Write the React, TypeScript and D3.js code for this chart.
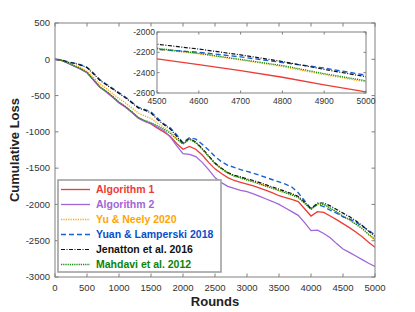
import * as d3 from 'd3';

const rounds = d3.range(0, 5001, 100);

// cumulative loss, one value per 100 rounds
const alg1 = [0, -15, -50, -92, -132, -182, -282, -382, -445, -515, -595, -655, -725, -805, -850, -890, -950, -1000, -1060, -1160, -1240, -1200, -1240, -1320, -1420, -1510, -1575, -1630, -1670, -1695, -1720, -1745, -1775, -1805, -1840, -1880, -1905, -1930, -1960, -2060, -2160, -2100, -2110, -2160, -2210, -2265, -2320, -2380, -2445, -2520, -2590];
const alg2 = [0, -16, -52, -96, -136, -186, -286, -386, -452, -522, -602, -662, -732, -812, -855, -885, -935, -980, -1070, -1190, -1300, -1310, -1340, -1420, -1520, -1630, -1700, -1750, -1780, -1805, -1825, -1855, -1890, -1925, -1960, -2000, -2050, -2100, -2150, -2250, -2360, -2355, -2400, -2460, -2540, -2615, -2660, -2710, -2760, -2810, -2855];
const yuNeely = [0, -12, -45, -80, -115, -165, -250, -340, -400, -470, -540, -600, -670, -740, -780, -815, -880, -940, -1000, -1090, -1170, -1095, -1145, -1235, -1335, -1435, -1505, -1565, -1605, -1630, -1660, -1685, -1715, -1745, -1775, -1805, -1835, -1865, -1900, -1980, -2065, -1990, -2000, -2055, -2110, -2170, -2215, -2275, -2340, -2420, -2490];
const yuan = [0, -8, -35, -52, -75, -110, -190, -280, -340, -400, -460, -520, -590, -660, -690, -725, -810, -890, -945, -1040, -1150, -1080, -1100, -1170, -1250, -1340, -1410, -1460, -1490, -1520, -1545, -1570, -1600, -1630, -1660, -1690, -1720, -1760, -1840, -1950, -2060, -2000, -2030, -2080, -2120, -2170, -2200, -2245, -2300, -2355, -2425];
const jenatton = [0, -10, -40, -55, -80, -115, -200, -290, -350, -410, -470, -530, -600, -670, -700, -740, -830, -900, -960, -1060, -1160, -1090, -1140, -1230, -1330, -1430, -1500, -1560, -1600, -1620, -1650, -1670, -1700, -1730, -1760, -1790, -1820, -1850, -1890, -1970, -2060, -1980, -1980, -2020, -2070, -2120, -2168, -2225, -2290, -2368, -2440];
const mahdavi = [0, -15, -50, -90, -130, -180, -280, -380, -440, -510, -590, -650, -720, -800, -840, -875, -915, -960, -1020, -1100, -1170, -1100, -1150, -1240, -1340, -1440, -1510, -1570, -1610, -1635, -1665, -1690, -1720, -1750, -1780, -1810, -1840, -1870, -1905, -1985, -2070, -1990, -2000, -2050, -2100, -2160, -2210, -2270, -2330, -2410, -2480];

const xTicks = d3.range(0, 5001, 500);
const yTicks = d3.range(500, -3001, -500);
const insetXTicks = [4500, 4600, 4700, 4800, 4900, 5000];
const insetYTicks = [-2000, -2200, -2400, -2600];

const series = [
  { name: 'Algorithm 1', values: alg1, color: '#ec3b36', text: '#ec3b36', dash: '', width: 1.3 },
  { name: 'Algorithm 2', values: alg2, color: '#a066d8', text: '#a066d8', dash: '', width: 1.3 },
  { name: 'Yu & Neely 2020', values: yuNeely, color: '#ffa500', text: '#ffa500', dash: '1.2,1.2', width: 1.3 },
  { name: 'Yuan & Lamperski 2018', values: yuan, color: '#1a5fd8', text: '#0a4dcc', dash: '5,3', width: 1.4 },
  { name: 'Jenatton et al. 2016', values: jenatton, color: '#111', text: '#111', dash: '4,1.5,1,1.5', width: 1.2 },
  { name: 'Mahdavi et al. 2012', values: mahdavi, color: '#0c8a0c', text: '#0a840a', dash: '1.2,1', width: 1.3 },
];

const font = 'Liberation Sans, Arial, sans-serif';
const axisColor = '#808080';
const tickText = '#333';

export default function App() {
  const W = 415, H = 312;
  const x = d3.scaleLinear().domain([0, 5000]).range([55, 375]);
  const y = d3.scaleLinear().domain([-3000, 500]).range([277, 23]);

  const ix = d3.scaleLinear().domain([4500, 5000]).range([157, 366]);
  const iy = d3.scaleLinear().domain([-2600, -2000]).range([93, 32]);

  const line = d3.line<number>().x((_, i) => x(rounds[i])).y(d => y(d));
  const insetLine = d3.line<number>().x((_, i) => ix(rounds[i])).y(d => iy(d));

  const [x0, x1] = x.range();
  const [y0, y1] = y.range();
  const [ix0, ix1] = ix.range();
  const [iy0, iy1] = iy.range();

  const legend = { x: 58, y: 180, w: 163, h: 92, row: 15 };

  return (
    <svg width={W} height={H} style={{ position: 'absolute', left: 0, top: 0 }} fontFamily={font}>
      <defs>
        <clipPath id="main"><rect x={x0} y={y1} width={x1 - x0} height={y0 - y1} /></clipPath>
        <clipPath id="inset"><rect x={ix0} y={iy1} width={ix1 - ix0} height={iy0 - iy1} /></clipPath>
      </defs>
      <rect width={W} height={H} fill="#fff" />

      {/* main curves */}
      <g clipPath="url(#main)">
        {series.map(s => (
          <path key={s.name} d={line(s.values)!} fill="none" stroke={s.color}
            strokeWidth={s.width} strokeDasharray={s.dash || undefined} />
        ))}
      </g>

      {/* main axes box */}
      <rect x={x0} y={y1} width={x1 - x0} height={y0 - y1} fill="none" stroke={axisColor} strokeWidth={1} />
      {xTicks.map(t => (
        <g key={'x' + t}>
          <line x1={x(t)} x2={x(t)} y1={y0} y2={y0 - 3.5} stroke={axisColor} />
          <line x1={x(t)} x2={x(t)} y1={y1} y2={y1 + 3.5} stroke={axisColor} />
          <text x={x(t)} y={y0 + 14} fontSize={9.5} textAnchor="middle" fill={tickText}>{t}</text>
        </g>
      ))}
      {yTicks.map(t => (
        <g key={'y' + t}>
          <line x1={x0} x2={x0 + 3.5} y1={y(t)} y2={y(t)} stroke={axisColor} />
          <line x1={x1} x2={x1 - 3.5} y1={y(t)} y2={y(t)} stroke={axisColor} />
          <text x={x0 - 5} y={y(t) + 3.3} fontSize={9.5} textAnchor="end" fill={tickText}>{t}</text>
        </g>
      ))}
      <text x={(x0 + x1) / 2} y={306} fontSize={13} fontWeight="bold" textAnchor="middle" fill="#222">Rounds</text>
      <text transform={`translate(19,${(y0 + y1) / 2}) rotate(-90)`} fontSize={13} fontWeight="bold"
        textAnchor="middle" fill="#222">Cumulative Loss</text>

      {/* inset */}
      <rect x={ix0} y={iy1} width={ix1 - ix0} height={iy0 - iy1} fill="#fff" />
      <g clipPath="url(#inset)">
        {series.map(s => (
          <path key={s.name} d={insetLine(s.values)!} fill="none" stroke={s.color}
            strokeWidth={s.width} strokeDasharray={s.dash || undefined} />
        ))}
      </g>
      <rect x={ix0} y={iy1} width={ix1 - ix0} height={iy0 - iy1} fill="none" stroke={axisColor} />
      {insetXTicks.map(t => (
        <g key={'ix' + t}>
          <line x1={ix(t)} x2={ix(t)} y1={iy0} y2={iy0 - 2.5} stroke={axisColor} />
          <line x1={ix(t)} x2={ix(t)} y1={iy1} y2={iy1 + 2.5} stroke={axisColor} />
          <text x={ix(t)} y={iy0 + 11} fontSize={8.5} textAnchor="middle" fill={tickText}>{t}</text>
        </g>
      ))}
      {insetYTicks.map(t => (
        <g key={'iy' + t}>
          <line x1={ix0} x2={ix0 + 2.5} y1={iy(t)} y2={iy(t)} stroke={axisColor} />
          <line x1={ix1} x2={ix1 - 2.5} y1={iy(t)} y2={iy(t)} stroke={axisColor} />
          <text x={ix0 - 2} y={iy(t) + 3} fontSize={8.5} textAnchor="end" fill={tickText}>{t}</text>
        </g>
      ))}

      {/* legend */}
      <rect x={legend.x} y={legend.y} width={legend.w} height={legend.h} fill="#fff" stroke="#a0a0a0" strokeWidth={1.6} />
      {series.map((s, i) => {
        const ly = legend.y + 9.5 + i * legend.row;
        return (
          <g key={'l' + s.name}>
            <line x1={legend.x + 3} x2={legend.x + 32} y1={ly} y2={ly} stroke={s.color}
              strokeWidth={s.width} strokeDasharray={s.dash || undefined} />
            <text x={legend.x + 38} y={ly + 3.8} fontSize={10.5} fontWeight="bold" fill={s.text}>{s.name}</text>
          </g>
        );
      })}
    </svg>
  );
}
